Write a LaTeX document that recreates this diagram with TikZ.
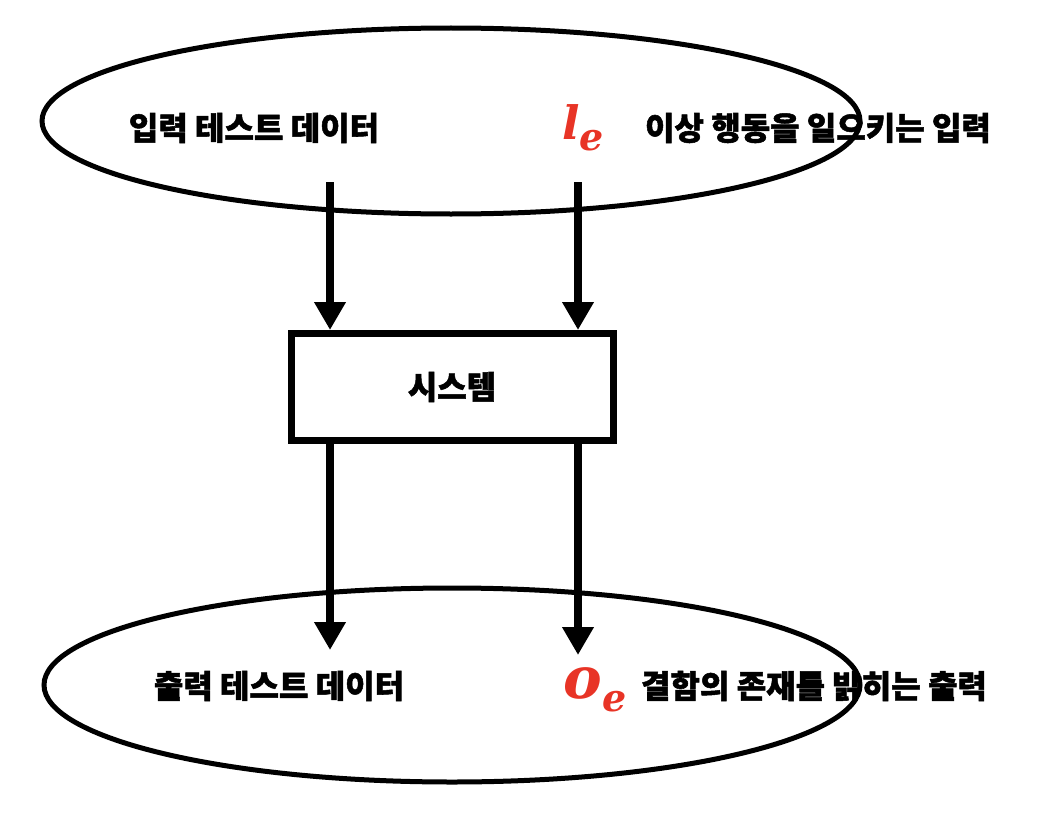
\documentclass[tikz,border=0pt]{standalone}
\usepackage{fontspec}
\newfontfamily\kr{Noto Sans CJK KR}[FakeBold=1.6]
\newfontfamily\symfont{DejaVu Serif}
\usetikzlibrary{arrows.meta}
\definecolor{symred}{RGB}{232,52,38}
\tikzset{
  lbl/.style={font=\kr\bfseries\fontsize{32}{32}\selectfont, inner sep=0pt},
  sym/.style={text=symred, inner sep=0pt},
  flow/.style={line width=8pt, -{Triangle[width=30pt,length=28pt]}}
}
\begin{document}
\begin{tikzpicture}[x=1pt,y=-1pt]
      \useasboundingbox (0,0) rectangle (1044,816);
      \draw[line width=5pt] (451,121) ellipse [x radius=409pt, y radius=93pt];
      \draw[line width=5pt] (452,685) ellipse [x radius=408pt, y radius=97pt];
      \draw
        (254,128) node[lbl] (in){입력 테스트 데이터}
        (818,128) node[lbl] (lab1){이상 행동을 일으키는 입력}
        (279,686) node[lbl] (out){출력 테스트 데이터}
        (814,686) node[lbl] (lab2){결함의 존재를 밝히는 출력}
        (583,128) node[sym] (le){\symfont\bfseries\itshape\fontsize{46}{46}\selectfont l\raisebox{-11pt}{\fontsize{38}{38}\selectfont e}}
        (595,690) node[sym] (oe){\symfont\bfseries\itshape\fontsize{58}{58}\selectfont o\raisebox{-13pt}{\fontsize{38}{38}\selectfont e}};
      \node[draw, line width=7pt, minimum width=322pt, minimum height=107pt, lbl] (sys) at (452,387) {시스템};
      \coordinate (a) at (330,182);
      \coordinate (b) at (578,182);
      \coordinate (c) at (330,650);
      \coordinate (d) at (578,655);
      \begin{scope}[flow]
        \draw (a) to (a |- sys.north);
        \draw (b) to (b |- sys.north);
        \draw (sys.south -| c) to (c);
        \draw (sys.south -| d) to (d);
      \end{scope}
    \end{tikzpicture}
\end{document}
